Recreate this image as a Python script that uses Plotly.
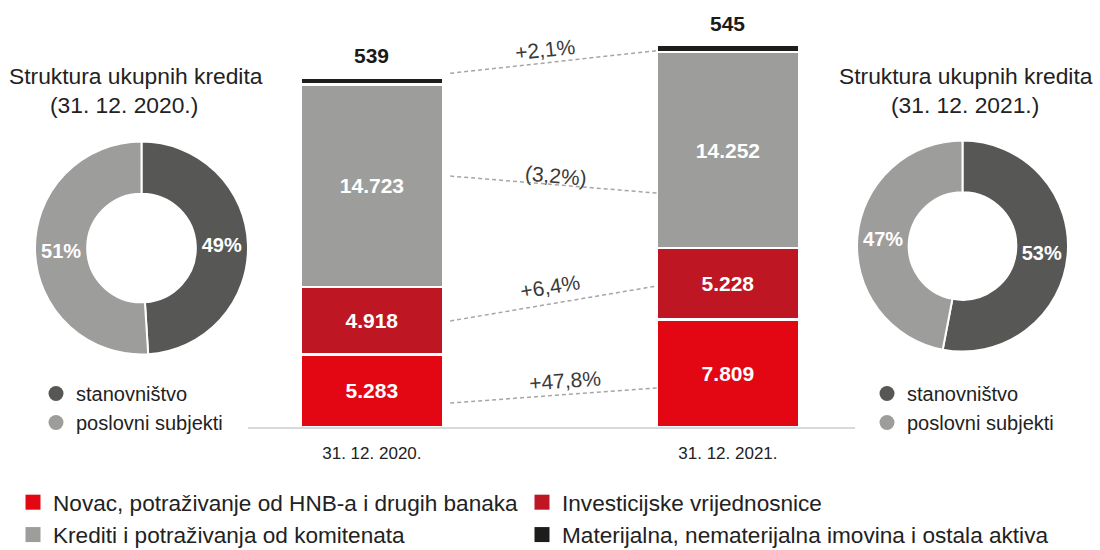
import plotly.graph_objects as go

# ---------------- data ----------------
periods = ["31. 12. 2020.", "31. 12. 2021."]
series_names = [
    "Novac, potraživanje od HNB-a i drugih banaka",
    "Investicijske vrijednosnice",
    "Krediti i potraživanja od komitenata",
    "Materijalna, nematerijalna imovina i ostala aktiva",
]
novac = [5283, 7809]
investicijske = [4918, 5228]
krediti = [14723, 14252]
materijalna = [539, 545]
change_labels = ["+2,1%", "(3,2%)", "+6,4%", "+47,8%"]

donut_labels = ["stanovništvo", "poslovni subjekti"]
donut_2020 = [49, 51]
donut_2021 = [53, 47]
donut_title = "Struktura ukupnih kredita"
donut_dates = ["(31. 12. 2020.)", "(31. 12. 2021.)"]

# ---------------- styles / layout constants ----------------
FONT = "Liberation Sans, Arial, sans-serif"
TXT = "#222222"
bar_colors = ["#E30613", "#BE1622", "#9D9D9C", "#1D1D1B"]
donut_colors = ["#575756", "#9D9D9C"]
W, H = 1100, 550
Y_MAX = 30360
# connector lines: (y at left bar, y at right bar) in data units, label pos & angle
connectors = [
    dict(y0=25750, y1=27400, lx=0.486, ly=27518, ang=-6),
    dict(y0=18270, y1=17030, lx=0.517, ly=18346, ang=5),
    dict(y0=7720, y1=10265, lx=0.50, ly=10265, ang=-9),
    dict(y0=1750, y1=2840, lx=0.542, ly=3422, ang=-4),
]

fig = go.Figure()

xs = [0, 1]
series_vals = [novac, investicijske, krediti, materijalna]
legend_of = ["legend", "legend4", "legend", "legend4"]
for i, (name, vals) in enumerate(zip(series_names, series_vals)):
    fig.add_trace(go.Bar(
        x=xs, y=vals, name=name, width=0.4,
        marker=dict(color=bar_colors[i], line=dict(color="white", width=2.5)),
        texttemplate="%{y:,.0f}" if i < 3 else None,
        textposition="inside" if i < 3 else "none",
        insidetextanchor="middle", textangle=0, constraintext="none",
        textfont=dict(color="white", size=21, family=FONT, weight="bold"),
        showlegend=False, hoverinfo="skip",
    ))

# Bar legend entries (square markers)
for i, name in enumerate(series_names):
    fig.add_trace(go.Scatter(
        x=[None], y=[None], mode="markers", name=name,
        marker=dict(symbol="square", size=15, color=bar_colors[i]),
        legend=legend_of[i], hoverinfo="skip",
    ))

# Donuts
for vals, dom in [
    (donut_2020, dict(x=[35 / W, 248 / W], y=[(H - 354.5) / H, (H - 141.5) / H])),
    (donut_2021, dict(x=[857 / W, 1068 / W], y=[(H - 351.5) / H, (H - 140.5) / H])),
]:
    fig.add_trace(go.Pie(
        labels=donut_labels, values=vals, hole=0.51, sort=False,
        direction="clockwise", rotation=0, domain=dom,
        marker=dict(colors=donut_colors, line=dict(color="white", width=2)),
        texttemplate="%{value}%", textposition="inside",
        insidetextorientation="horizontal",
        textfont=dict(color="white", size=20, family=FONT, weight="bold"),
        showlegend=False, hoverinfo="skip",
    ))

# Donut legends (circle markers)
for leg in ["legend2", "legend3"]:
    for lab, col in zip(donut_labels, donut_colors):
        fig.add_trace(go.Scatter(
            x=[None], y=[None], mode="markers", name=lab,
            marker=dict(symbol="circle", size=15, color=col),
            legend=leg, hoverinfo="skip",
        ))

# Connector lines and change labels
for c, lab in zip(connectors, change_labels):
    fig.add_shape(type="line", xref="x", yref="y", x0=0.22, x1=0.8,
                  y0=c["y0"], y1=c["y1"],
                  line=dict(color="#A6A6A6", width=1.5, dash="4px,3px"))
    fig.add_annotation(x=c["lx"], y=c["ly"], xref="x", yref="y", text=lab,
                       showarrow=False, textangle=c["ang"],
                       font=dict(size=21, color="#3a3a3a", family=FONT))

# Top values (Materijalna) above the stacks
totals = [a + b + c + d for a, b, c, d in zip(novac, investicijske, krediti, materijalna)]
for x, t, v in zip(xs, totals, materijalna):
    fig.add_annotation(x=x, y=t, xref="x", yref="y", text=f"{v}", showarrow=False,
                       yanchor="bottom", yshift=8,
                       font=dict(size=21, color="#1a1a1a", family=FONT, weight="bold"))

# Donut titles
for cx1, cx2, date in [(136, 124, donut_dates[0]), (966, 965, donut_dates[1])]:
    fig.add_annotation(x=cx1 / W, y=(H - 76) / H, xref="paper", yref="paper",
                       xanchor="center", yanchor="middle",
                       text=donut_title, showarrow=False,
                       font=dict(size=22.8, color=TXT, family=FONT))
    fig.add_annotation(x=cx2 / W, y=(H - 105) / H, xref="paper", yref="paper",
                       xanchor="center", yanchor="middle",
                       text=date, showarrow=False,
                       font=dict(size=22.8, color=TXT, family=FONT))

leg_common = dict(orientation="v", yanchor="top", xanchor="left",
                  bgcolor="rgba(0,0,0,0)", borderwidth=0, traceorder="normal")
fig.update_layout(
    width=W, height=H,
    margin=dict(l=0, r=0, t=0, b=0, autoexpand=False),
    paper_bgcolor="white", plot_bgcolor="white",
    barmode="stack", bargap=0,
    separators=",.",
    hovermode=False,
    font=dict(family=FONT, color=TXT),
    xaxis=dict(domain=[248 / W, 855 / W], range=[-0.348, 1.357],
               tickvals=xs, ticktext=periods, showgrid=False, zeroline=False,
               showline=True, linecolor="#D9D9D9", linewidth=2, ticks="",
               ticklabelstandoff=10,
               tickfont=dict(size=17, color=TXT, family=FONT), fixedrange=True),
    yaxis=dict(domain=[(H - 427) / H, (H - 10) / H], range=[0, Y_MAX],
               visible=False, fixedrange=True),
    legend=dict(x=13 / W, y=(H - 481) / H,
                font=dict(size=22.6, color=TXT, family=FONT), **leg_common),
    legend4=dict(x=522 / W, y=(H - 481) / H,
                 font=dict(size=22.6, color=TXT, family=FONT), **leg_common),
    legend2=dict(x=36 / W, y=(H - 374) / H,
                 font=dict(size=20, color=TXT, family=FONT), **leg_common),
    legend3=dict(x=867 / W, y=(H - 374) / H,
                 font=dict(size=20, color=TXT, family=FONT), **leg_common),
)

fig.write_html("out.html", config={"staticPlot": True},
               post_script="document.body.style.margin='0';")
